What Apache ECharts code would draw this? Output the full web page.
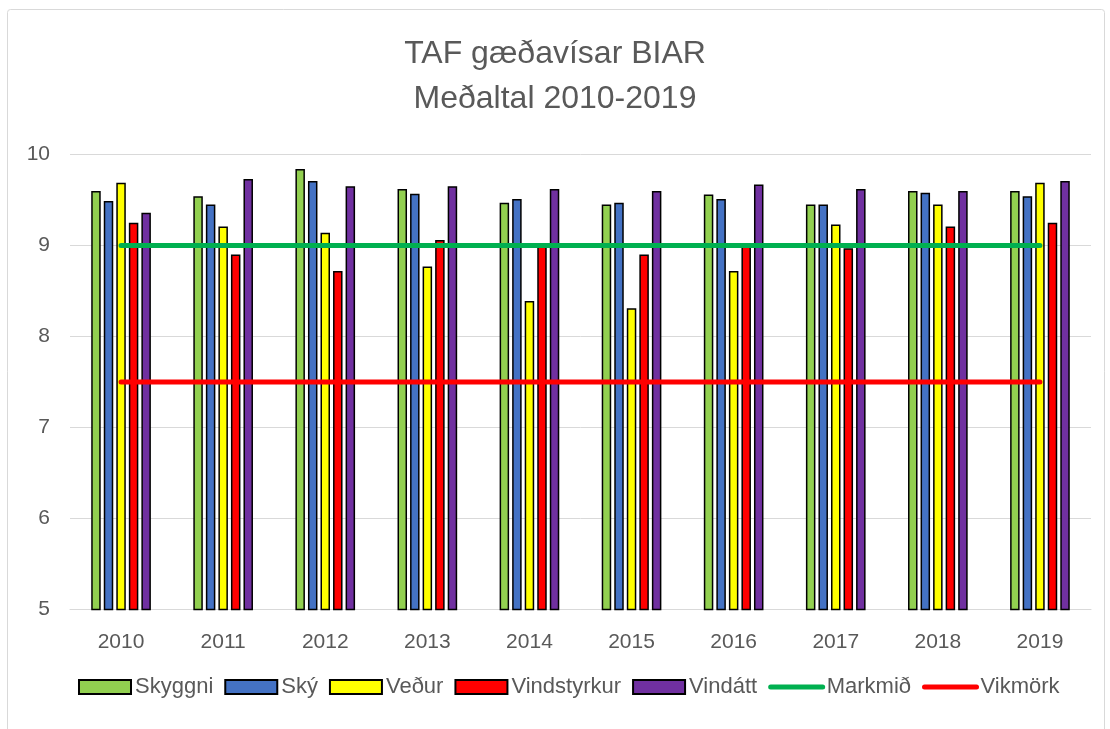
<!DOCTYPE html>
<html>
<head>
<meta charset="utf-8">
<script src="https://cdn.jsdelivr.net/npm/echarts@6/dist/echarts.min.js"></script>
<style>
html,body{margin:0;padding:0;background:#fff;}
#chart{width:1110px;height:729px;}
</style>
</head>
<body>
<div id="chart"></div>
<script>
const categories = ['2010','2011','2012','2013','2014','2015','2016','2017','2018','2019'];
const skyggni     = [9.60, 9.54, 9.84, 9.62, 9.47, 9.45, 9.56, 9.45, 9.60, 9.60];
const sky         = [9.49, 9.45, 9.71, 9.57, 9.51, 9.47, 9.51, 9.45, 9.58, 9.54];
const vedur       = [9.69, 9.21, 9.14, 8.77, 8.39, 8.31, 8.72, 9.23, 9.45, 9.69];
const vindstyrkur = [9.25, 8.90, 8.72, 9.06, 8.99, 8.90, 8.99, 8.97, 9.21, 9.25];
const vindatt     = [9.36, 9.73, 9.65, 9.65, 9.62, 9.60, 9.67, 9.62, 9.60, 9.71];
const markmid     = [9, 9, 9, 9, 9, 9, 9, 9, 9, 9];
const vikmork     = [7.5, 7.5, 7.5, 7.5, 7.5, 7.5, 7.5, 7.5, 7.5, 7.5];
const yTicks = [5, 6, 7, 8, 9, 10];

const FONT = '"Liberation Sans", sans-serif';
const TXT = '#595959';

function barSeries(name, data, color) {
  return {
    name: name, type: 'bar', data: data,
    barWidth: 9.5, barGap: '32%',
    itemStyle: { color: color, borderColor: '#000', borderWidth: 1.5 }
  };
}
function lineSeries(name, data, color) {
  return {
    name: name, type: 'line', data: data, symbol: 'none',
    lineStyle: { color: color, width: 5, cap: 'round' }, itemStyle: { color: color }, z: 5
  };
}

const chart = echarts.init(document.getElementById('chart'), null, { renderer: 'canvas' });
chart.setOption({
  animation: false,
  backgroundColor: '#fff',
  graphic: [{
    type: 'rect', shape: { x: 7.5, y: 9.5, width: 1097, height: 730, r: 3 },
    style: { fill: 'none', stroke: '#d9d9d9', lineWidth: 1 }, silent: true, z: -1
  }],
  title: {
    text: 'TAF gæðavísar BIAR\nMeðaltal 2010-2019',
    left: 'center', top: 32, padding: 0,
    textStyle: { fontFamily: FONT, fontSize: 32, fontWeight: 'normal', color: TXT, lineHeight: 45 }
  },
  legend: {
    bottom: 26, left: 73,
    itemWidth: 52, itemHeight: 14, itemGap: 11,
    textStyle: { fontFamily: FONT, fontSize: 22, color: TXT, padding: [0, 0, 0, -1] },
    data: [
      { name: 'Skyggni', icon: 'rect' },
      { name: 'Ský', icon: 'rect' },
      { name: 'Veður', icon: 'rect' },
      { name: 'Vindstyrkur', icon: 'rect' },
      { name: 'Vindátt', icon: 'rect' },
      { name: 'Markmið', itemStyle: { opacity: 0 }, lineStyle: { width: 5, cap: 'round' } },
      { name: 'Vikmörk', itemStyle: { opacity: 0 }, lineStyle: { width: 5, cap: 'round' } }
    ]
  },
  grid: { left: 70, right: 19, top: 154.5, bottom: 119.5 },
  xAxis: {
    type: 'category', data: categories,
    axisLine: { lineStyle: { color: '#d9d9d9', width: 1 } },
    axisTick: { show: false },
    axisLabel: { fontFamily: FONT, fontSize: 21, color: TXT, margin: 22 }
  },
  yAxis: {
    type: 'value', min: yTicks[0], max: yTicks[yTicks.length - 1], interval: 1,
    axisLine: { show: false }, axisTick: { show: false },
    splitLine: { lineStyle: { color: '#d9d9d9', width: 1 } },
    axisLabel: { fontFamily: FONT, fontSize: 21, color: TXT, margin: 20 }
  },
  series: [
    barSeries('Skyggni', skyggni, '#92d050'),
    barSeries('Ský', sky, '#4472c4'),
    barSeries('Veður', vedur, '#ffff00'),
    barSeries('Vindstyrkur', vindstyrkur, '#ff0000'),
    barSeries('Vindátt', vindatt, '#7030a0'),
    lineSeries('Markmið', markmid, '#00b050'),
    lineSeries('Vikmörk', vikmork, '#ff0000')
  ]
});
</script>
</body>
</html>
